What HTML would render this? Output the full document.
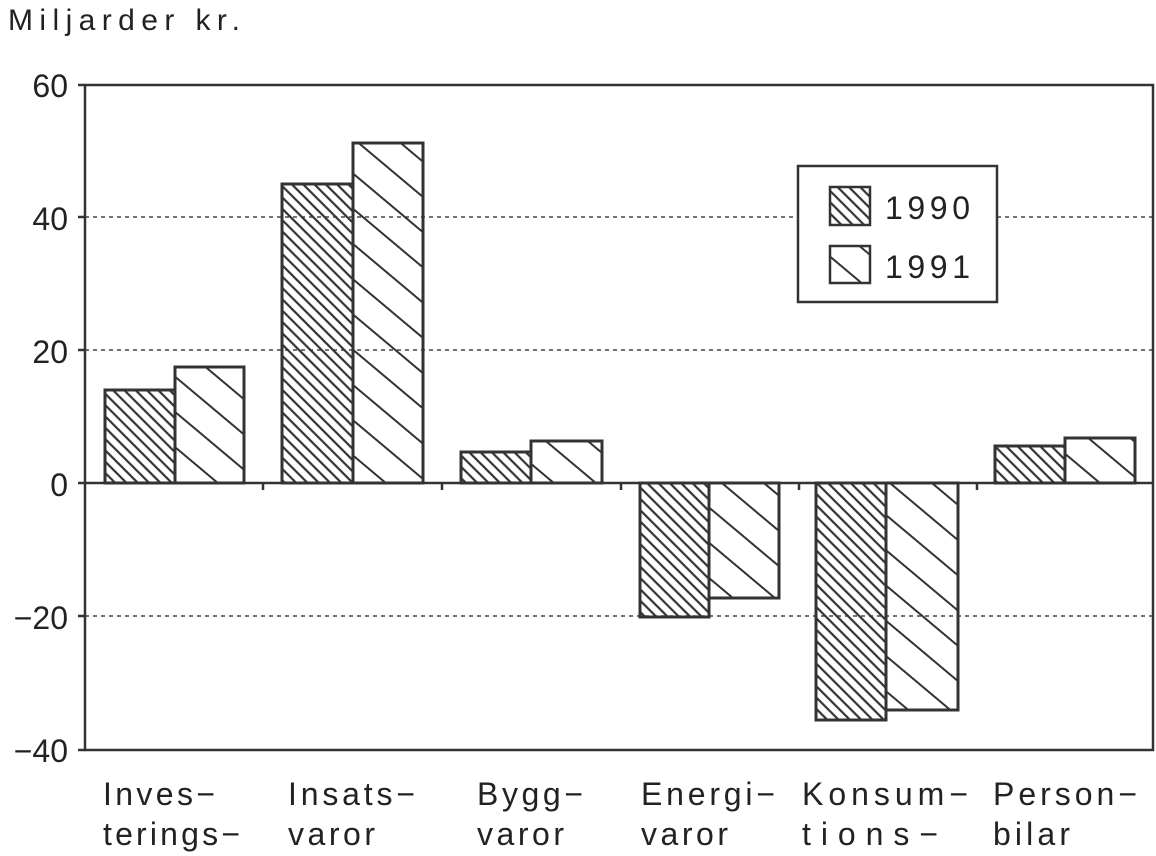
<!DOCTYPE html>
<html><head><style>body{margin:0;background:#fff}svg{display:block}text{font-family:"Liberation Sans",sans-serif;fill:#222}</style></head>
<body>
<svg width="1156" height="856" viewBox="0 0 1156 856">
<defs>
<pattern id="d" patternUnits="userSpaceOnUse" width="8" height="8" patternTransform="rotate(-45)"><line x1="0" y1="0" x2="0" y2="8" stroke="#333" stroke-width="2.2" transform="translate(4,0)"/></pattern>
<pattern id="s" patternUnits="userSpaceOnUse" width="27" height="27" patternTransform="rotate(-50)"><line x1="13" y1="0" x2="13" y2="27" stroke="#333" stroke-width="2"/></pattern>
</defs>
<text x="8" y="30" font-size="30" textLength="232" lengthAdjust="spacing">Miljarder kr.</text>
<g stroke="#444" stroke-width="1.5" stroke-dasharray="4,4">
<line x1="85" y1="217" x2="1153" y2="217"/><line x1="85" y1="350" x2="1153" y2="350"/><line x1="85" y1="616" x2="1153" y2="616"/>
</g>
<g font-size="32" text-anchor="end">
<text x="68" y="97">60</text><text x="68" y="230">40</text><text x="68" y="363">20</text><text x="68" y="496">0</text><text x="68" y="629">−20</text><text x="68" y="762">−40</text>
</g>
<g stroke="#333" stroke-width="3">
<rect x="105" y="390" width="70" height="93" fill="url(#d)"/>
<rect x="175" y="367" width="69" height="116" fill="url(#s)"/>
<rect x="282" y="184" width="71" height="299" fill="url(#d)"/>
<rect x="353" y="143" width="70" height="340" fill="url(#s)"/>
<rect x="461" y="452" width="70" height="31" fill="url(#d)"/>
<rect x="531" y="441" width="71" height="42" fill="url(#s)"/>
<rect x="640" y="483" width="69" height="134" fill="url(#d)"/>
<rect x="709" y="483" width="70" height="115" fill="url(#s)"/>
<rect x="816" y="483" width="70" height="237" fill="url(#d)"/>
<rect x="886" y="483" width="72" height="227" fill="url(#s)"/>
<rect x="995" y="446" width="70" height="37" fill="url(#d)"/>
<rect x="1065" y="438" width="70" height="45" fill="url(#s)"/>
</g>
<g stroke="#333" stroke-width="2.5" fill="none">
<rect x="85" y="85" width="1068" height="665"/>
<line x1="85" y1="483" x2="1153" y2="483"/>
<line x1="263" y1="483" x2="263" y2="490"/><line x1="442" y1="483" x2="442" y2="490"/><line x1="621" y1="483" x2="621" y2="490"/><line x1="799" y1="483" x2="799" y2="490"/><line x1="977" y1="483" x2="977" y2="490"/>
<line x1="78" y1="85" x2="85" y2="85"/><line x1="78" y1="217" x2="85" y2="217"/><line x1="78" y1="350" x2="85" y2="350"/><line x1="78" y1="483" x2="85" y2="483"/><line x1="78" y1="616" x2="85" y2="616"/><line x1="78" y1="750" x2="85" y2="750"/>
</g>
<rect x="798" y="166" width="199" height="136" fill="#fff" stroke="#333" stroke-width="2.5"/>
<rect x="830" y="187" width="40" height="38" fill="url(#d)" stroke="#333" stroke-width="2.5"/>
<rect x="830" y="246" width="40" height="37" fill="url(#s)" stroke="#333" stroke-width="2.5"/>
<text x="885" y="219" font-size="32" textLength="85" lengthAdjust="spacing">1990</text>
<text x="885" y="278" font-size="32" textLength="85" lengthAdjust="spacing">1991</text>
<g font-size="32" lengthAdjust="spacing">
<text x="103" y="805" textLength="112">Inves−</text><text x="103" y="845" textLength="137">terings−</text>
<text x="288" y="805" textLength="127">Insats−</text><text x="288" y="845" textLength="87">varor</text>
<text x="477" y="805" textLength="106">Bygg−</text><text x="477" y="845" textLength="87">varor</text>
<text x="641" y="805" textLength="134">Energi−</text><text x="641" y="845" textLength="87">varor</text>
<text x="802" y="805" textLength="166">Konsum−</text><text x="802" y="845" textLength="136">tions−</text>
<text x="993" y="805" textLength="144">Person−</text><text x="993" y="845" textLength="77">bilar</text>
</g>
</svg>
</body></html>
